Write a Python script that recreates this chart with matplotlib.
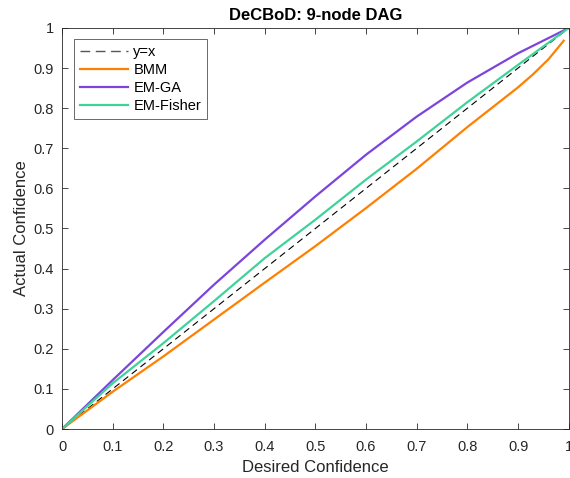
import matplotlib
matplotlib.use("Agg")
import matplotlib.pyplot as plt
import numpy as np

plt.rcParams['font.family'] = ['Liberation Sans', 'DejaVu Sans']

desired = [0.0, 0.1, 0.2, 0.3, 0.4, 0.5, 0.6, 0.7, 0.8, 0.9, 1.0]
em_ga = [0.0, 0.122, 0.242, 0.360, 0.472, 0.580, 0.684, 0.779, 0.864, 0.937, 1.0]
em_fisher = [0.0, 0.114, 0.214, 0.319, 0.426, 0.522, 0.622, 0.717, 0.815, 0.908, 1.0]
bmm_x = [0.0, 0.1, 0.2, 0.3, 0.4, 0.5, 0.6, 0.7, 0.8, 0.9, 0.93, 0.96, 0.99]
bmm = [0.0, 0.093, 0.181, 0.273, 0.365, 0.456, 0.551, 0.649, 0.753, 0.852, 0.885, 0.922, 0.968]

ticks = [0, 0.1, 0.2, 0.3, 0.4, 0.5, 0.6, 0.7, 0.8, 0.9, 1]
tick_labels = ['0', '0.1', '0.2', '0.3', '0.4', '0.5', '0.6', '0.7', '0.8', '0.9', '1']

fig = plt.figure(figsize=(5.7, 4.78), dpi=100)
ax = fig.add_axes([0.1088, 0.1025, 0.889, 0.839])

ax.plot([0, 1], [0, 1], linestyle=(0, (6, 4)), color='black', lw=0.8, label='_nolegend_')
ax.plot(bmm_x, bmm, color='#FF8000', lw=1.6, label='BMM')
ax.plot(desired, em_ga, color='#7B44DD', lw=1.6, label='EM-GA')
ax.plot(desired, em_fisher, color='#3FD39A', lw=1.6, label='EM-Fisher')

# legend proxy for the y=x reference line (same data, longer dashes in the legend like the original)
from matplotlib.lines import Line2D
proxy = Line2D([], [], color='#555555', lw=1.0, linestyle=(0, (7, 4)))
handles, labels = ax.get_legend_handles_labels()
handles = [proxy] + handles
labels = ['y=x'] + labels

ax.set_xlim(0, 1)
ax.set_ylim(0, 1)
ax.set_xticks(ticks)
ax.set_xticklabels(tick_labels)
ax.set_yticks(ticks)
ax.set_yticklabels(tick_labels)
ax.tick_params(direction='in', top=True, right=True, length=4, width=0.6,
               labelsize=10.5, colors='#262626')
ax.tick_params(axis='x', pad=8)
ax.tick_params(axis='y', pad=6)
for s in ax.spines.values():
    s.set_color('#262626')
    s.set_linewidth(0.6)

ax.set_xlabel('Desired Confidence', fontsize=12, color='#262626', labelpad=4)
ax.set_ylabel('Actual Confidence', fontsize=12, color='#262626', labelpad=3)
ax.set_title('DeCBoD: 9-node DAG', fontsize=12, fontweight='bold', pad=6)

leg = ax.legend(handles, labels, loc='upper left', bbox_to_anchor=(0.01, 0.99), fontsize=10.5,
                frameon=True, fancybox=False, edgecolor='#262626',
                handlelength=3.3, borderpad=0.4, labelspacing=0.28, handletextpad=0.35)
leg.get_frame().set_linewidth(0.6)

fig.savefig('out.png', dpi=100)
